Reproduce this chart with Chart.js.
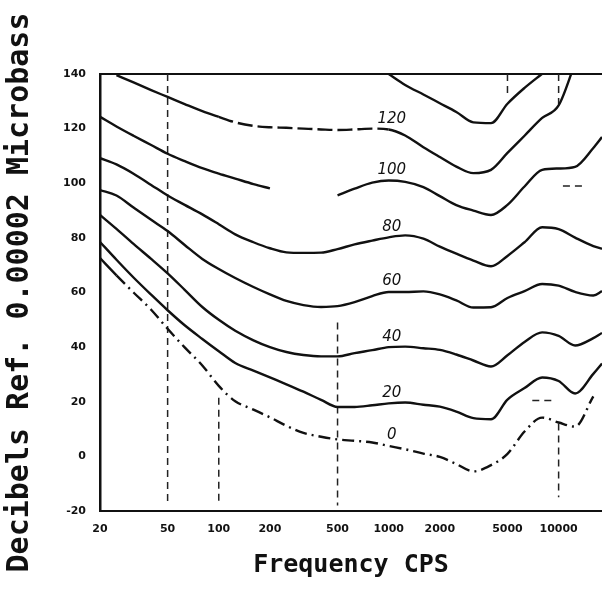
<!DOCTYPE html>
<html lang="en">
<head>
    <meta charset="UTF-8">
    <title>Equal Loudness Contours</title>
    <script src="https://cdn.jsdelivr.net/npm/chart.js"></script>
    <style>
        body { margin: 0; background: #fff; }
        canvas { display: block; }
    </style>
</head>
<body>
    <canvas id="loudness-chart" width="602" height="590"></canvas>

    <script>
        // Frequency grid in cps (third-octave steps)
        const freqs = [20, 25, 31.5, 40, 50, 63, 80, 100, 125, 160, 200, 250, 315, 400, 500, 630, 800,
                       1000, 1250, 1600, 2000, 2500, 3150, 4000, 5000, 6300, 8000, 10000, 12500, 16000, 18000];
        const xTickValues = [20, 50, 100, 200, 500, 1000, 2000, 5000, 10000];

        // Sound pressure level (dB) along each loudness contour
        const contour0 = [72.6, 66.3, 60.0, 53.7, 46.7, 39.9, 33.3, 25.8, 20.2, 17.1, 14.3, 11.2, 8.6, 7.2, 6.2, 5.7, 5.1,
                          3.8, 2.6, 1.0, -0.2, -2.8, -5.5, -3.2, 0.9, 9.1, 14.2, 12.4, 10.9, 22.0, null];
        const contour20 = [78.5, 72.0, 65.5, 59.2, 53.5, 48.0, 43.0, 38.5, 34.2, 31.4, 28.9, 26.4, 23.7, 20.7, 18.1, 18.1, 18.7,
                           19.4, 19.7, 18.9, 18.2, 16.4, 14.0, 13.6, 20.8, 25.0, 28.9, 27.6, 23.0, 30.2, 34.0];
        const contour40 = [88.4, 83.3, 77.8, 72.3, 67.0, 61.0, 54.7, 50.0, 46.0, 42.5, 40.0, 38.2, 37.1, 36.6, 36.6, 37.8, 38.9,
                           40.0, 40.2, 39.6, 39.0, 37.3, 35.1, 32.9, 37.0, 41.9, 45.4, 44.1, 40.6, 43.3, 45.2];
        const contour60 = [97.5, 95.5, 91.1, 86.6, 82.5, 77.4, 72.3, 68.6, 65.3, 62.0, 59.3, 56.9, 55.4, 54.7, 55.0, 56.5, 58.7,
                           60.2, 60.2, 60.4, 59.3, 57.1, 54.5, 54.6, 58.0, 60.5, 63.1, 62.5, 60.2, 58.9, 60.5];
        const contour80 = [109.2, 106.9, 103.5, 99.4, 95.5, 92.1, 88.6, 85.0, 81.3, 78.4, 76.2, 74.7, 74.5, 74.6, 75.9, 77.6, 79.0,
                           80.2, 80.9, 79.7, 76.8, 74.2, 71.7, 69.6, 73.4, 78.4, 83.9, 83.2, 80.1, 77.0, 76.0];
        const contour100 = [124.3, 120.8, 117.4, 114.0, 110.8, 108.1, 105.5, 103.5, 101.7, 99.7, 98.1, null, null, null, 95.6, 98.0, 100.2,
                            101.0, 100.5, 98.6, 95.3, 92.0, 90.0, 88.4, 92.1, 98.8, 104.9, 105.4, 106.0, 112.9, 116.9];
        const contour120 = [null, 139.6, 136.9, 134.1, 131.6, 129.0, 126.4, 124.3, 122.3, 121.0, 120.5, 120.3, 120.0, 119.7, 119.5, 119.7, 120.0,
                            119.7, 117.5, 113.2, 109.6, 106.1, 103.7, 104.9, 111.1, 117.4, 123.9, 128.5, 144.0, null, null];
        const contour130 = [null, null, null, null, null, null, null, null, null, null, null, null, null, null, null, null, null,
                            140.0, 136.0, 132.5, 129.3, 126.1, 122.3, 122.0, 129.1, 134.9, 140.1, null, null, null, null];

        const contourLabels = ["0", "20", "40", "60", "80", "100", "120"];

        // dashed reference lines: vertical ones by frequency, short horizontal ones by level
        const guideLines = [
            { freq: 50, top: 140, bottom: -17 },
            { freq: 100, top: 21.5, bottom: -18 },
            { freq: 500, top: 49, bottom: -18 },
            { freq: 5000, top: 140, bottom: 133 },
            { freq: 10000, top: 140, bottom: 129 },
            { freq: 10000, top: 12, bottom: -15 }
        ];
        const levelMarks = [
            { db: 20.5, from: 7000, to: 9200 },
            { db: 99.0, from: 10600, to: 14600 }
        ];

        function contour(values, extra) {
            return Object.assign({
                data: freqs.map((f, i) => ({ x: f, y: values[i] })),
                borderColor: "#111",
                borderWidth: 2.4,
                pointRadius: 0,
                fill: false,
                cubicInterpolationMode: "monotone",
                spanGaps: false,
                clip: 0
            }, extra || {});
        }

        const datasets = [
            contour(contour0, {
                borderDash: [12, 5, 2, 5],
                segment: { borderDash: ctx => ctx.p0DataIndex === 0 ? [] : undefined }
            }),
            contour(contour20),
            contour(contour40),
            contour(contour60),
            contour(contour80),
            contour(contour100),
            contour(contour120, {
                segment: {
                    borderDash: ctx => (ctx.p0.parsed.x >= 100 && ctx.p1.parsed.x <= 1000) ? [15, 5] : undefined
                }
            }),
            contour(contour130)
        ];

        // guide lines and the phon numbers written beside the curves
        const annotations = {
            id: "annotations",
            beforeDatasetsDraw(chart) {
                const { ctx, scales: { x, y } } = chart;
                ctx.save();
                ctx.strokeStyle = "#222";
                ctx.lineWidth = 1.5;
                ctx.setLineDash([7, 5]);
                guideLines.forEach(g => {
                    const px = x.getPixelForValue(g.freq);
                    ctx.beginPath();
                    ctx.moveTo(px, y.getPixelForValue(g.top));
                    ctx.lineTo(px, y.getPixelForValue(g.bottom));
                    ctx.stroke();
                });
                levelMarks.forEach(m => {
                    const py = y.getPixelForValue(m.db);
                    ctx.beginPath();
                    ctx.moveTo(x.getPixelForValue(m.from), py);
                    ctx.lineTo(x.getPixelForValue(m.to), py);
                    ctx.stroke();
                });
                ctx.restore();
            },
            afterDatasetsDraw(chart) {
                const { ctx, scales: { x, y } } = chart;
                const idx = freqs.indexOf(1000);
                ctx.save();
                ctx.font = "italic 15px 'DejaVu Sans'";
                ctx.fillStyle = "#111";
                ctx.textAlign = "center";
                ctx.textBaseline = "bottom";
                contourLabels.forEach((text, i) => {
                    const value = chart.data.datasets[i].data[idx].y;
                    ctx.fillText(text, x.getPixelForValue(1000) + 3, y.getPixelForValue(value) - 3);
                });
                ctx.restore();
            }
        };

        new Chart(document.getElementById("loudness-chart").getContext("2d"), {
            type: "line",
            data: { datasets: datasets },
            plugins: [annotations],
            options: {
                responsive: false,
                animation: false,
                devicePixelRatio: 1,
                layout: { padding: { top: 74, left: 0, right: 0, bottom: 0 } },
                plugins: { legend: { display: false }, tooltip: { enabled: false } },
                scales: {
                    x: {
                        type: "logarithmic",
                        position: "bottom",
                        min: 20,
                        max: 18000,
                        afterBuildTicks: scale => { scale.ticks = xTickValues.map(v => ({ value: v })); },
                        afterFit: scale => { scale.height = 79; },
                        grid: { display: false, drawTicks: false },
                        border: { display: true, color: "#111", width: 2, dash: [12, 4] },
                        ticks: {
                            autoSkip: false,
                            maxRotation: 0,
                            padding: 12,
                            color: "#111",
                            font: { family: "DejaVu Sans", size: 11, weight: "bold" },
                            callback: value => String(value)
                        },
                        title: {
                            display: true,
                            text: "Frequency CPS",
                            color: "#111",
                            font: { family: "DejaVu Sans Mono", size: 25, weight: "bold" },
                            padding: { top: 0, bottom: 10 }
                        }
                    },
                    xTop: {
                        type: "linear",
                        position: "top",
                        min: 0,
                        max: 1,
                        afterFit: scale => { scale.height = 0; },
                        grid: { display: false, drawTicks: false },
                        border: { display: true, color: "#111", width: 2, dash: [10, 3] },
                        ticks: { display: false }
                    },
                    y: {
                        min: -20,
                        max: 140,
                        afterFit: scale => { scale.width = 100; },
                        grid: { display: false, drawTicks: false },
                        border: { display: true, color: "#111", width: 2.5 },
                        ticks: {
                            stepSize: 20,
                            padding: 14,
                            color: "#111",
                            font: { family: "DejaVu Sans", size: 11, weight: "bold" }
                        },
                        title: {
                            display: true,
                            text: "Decibels Ref. 0.00002 Microbass",
                            color: "#111",
                            font: { family: "DejaVu Sans Mono", size: 30, weight: "bold" },
                            padding: { top: 2, bottom: 0 }
                        }
                    }
                }
            }
        });
    </script>
</body>
</html>
